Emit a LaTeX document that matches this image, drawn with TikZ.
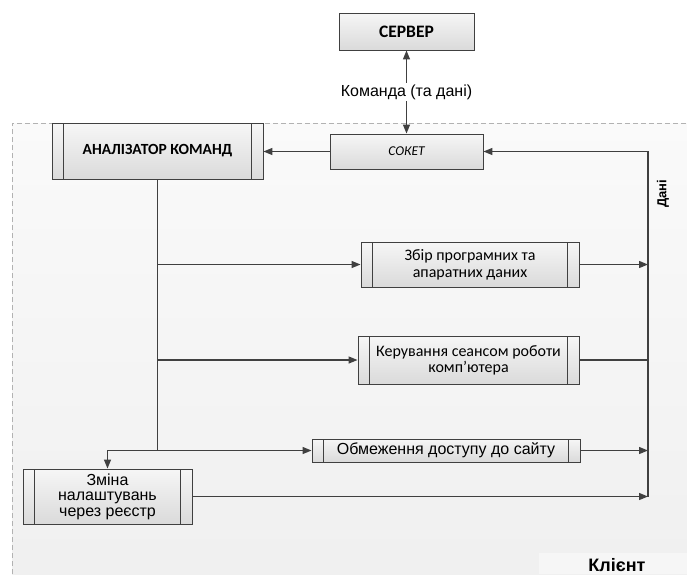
\documentclass[tikz,border=0pt]{standalone}
\usepackage{fontspec}
\setmainfont{Liberation Sans}
\newfontfamily\calibri{Carlito}
\usetikzlibrary{positioning}
\usetikzlibrary{arrows.meta}
\definecolor{lineg}{HTML}{404040}
\definecolor{boxtop}{HTML}{F6F6F6}
\definecolor{boxbot}{HTML}{DADADA}
\tikzstyle{arrow} = [lineg, line width=1.3pt, -{Triangle[length=9pt,width=7pt]}]
\tikzstyle{biarrow} = [lineg, line width=1.3pt, {Triangle[length=9pt,width=7pt]}-{Triangle[length=9pt,width=7pt]}]
\tikzstyle{plain} = [lineg, line width=1.3pt]
\tikzstyle{box} = [draw=lineg, line width=0.9pt, top color=boxtop, bottom color=boxbot, inner sep=0pt, align=center]
\tikzstyle{procbox} = [box, path picture={
    \draw[lineg, line width=0.9pt] ([xshift=11.5pt]path picture bounding box.north west) -- ([xshift=11.5pt]path picture bounding box.south west);
    \draw[lineg, line width=0.9pt] ([xshift=-11.5pt]path picture bounding box.north east) -- ([xshift=-11.5pt]path picture bounding box.south east);}]

\begin{document}
\begin{tikzpicture}[x=1pt, y=-1pt]
    \useasboundingbox (0,0) rectangle (687,574);

    % Client area
    \shade[top color=white!98!black, bottom color=black!6] (12,123) rectangle (687,574);
    \draw[gray!60, line width=0.8pt, dash pattern=on 5pt off 3pt] (12,574) -- (12,123) -- (687,123);
    \fill[black!3.5] (539,553) rectangle (687,574);

    % Nodes
    \node[box, minimum width=135pt, minimum height=37pt, font=\calibri\fontsize{17.5}{18}\selectfont\bfseries] (server) at (406.5,31.5) {СЕРВЕР};
    \node[box, minimum width=153pt, minimum height=35pt, font=\calibri\fontsize{13.5}{15}\selectfont\itshape] (socket) at (406.5,151.5) {СОКЕТ};
    \node[procbox, minimum width=211pt, minimum height=56pt, font=\calibri\fontsize{15.5}{18}\selectfont\bfseries] (analyzer) at (157.5,151) {АНАЛІЗАТОР КОМАНД};
    \node[procbox, minimum width=218pt, minimum height=45pt, font=\calibri\fontsize{16}{17}\selectfont] (collect) at (470,264.5) {Збір програмних та\\апаратних даних};
    \node[procbox, minimum width=221pt, minimum height=48pt, font=\calibri\fontsize{16}{16}\selectfont] (session) at (468.5,360) {Керування сеансом роботи\\комп’ютера};
    \node[procbox, minimum width=268pt, minimum height=23pt, font=\fontsize{16}{16}\selectfont] (restrict) at (446,450.5) {Обмеження доступу до сайту};
    \node[procbox, minimum width=169pt, minimum height=55pt, font=\fontsize{16}{15.5}\selectfont] (registry) at (107.5,496.5) {Зміна\\налаштувань\\через реєстр};
    \coordinate (datatop) at (648,151.5);
    \node[rotate=90, font=\fontsize{13}{14}\selectfont\bfseries] (datalabel) at (663,194) {Дані};
    \node[font=\fontsize{18}{19}\selectfont\bfseries] (client) at (617,565) {Клієнт};

    % Edges
    \draw[biarrow] (server) -- node[fill=white, text=black, inner sep=2pt, font=\fontsize{16}{17}\selectfont] (cmdlabel) {Команда (та дані)} (socket);
    \draw[arrow] (socket.west) -- (analyzer.east |- socket.west);
    \draw[plain] (analyzer.south) -- (analyzer.south |- restrict.west);
    \draw[arrow] (analyzer.south |- collect.west) -- (collect.west);
    \draw[arrow] (analyzer.south |- session.west) -- (session.west);
    \draw[arrow] (analyzer.south |- restrict.west) -- (restrict.west);
    \draw[arrow] (analyzer.south |- restrict.west) -| (registry.north);
    \draw[arrow] (collect.east) -- (collect.east -| datatop);
    \draw[plain] (session.east) -- (session.east -| datatop);
    \draw[arrow] (restrict.east) -- (restrict.east -| datatop);
    \draw[arrow] (registry.east) -- (registry.east -| datatop);
    \draw[arrow] (registry.east -| datatop) -- (datatop) -- (socket.east);
\end{tikzpicture}
\end{document}
